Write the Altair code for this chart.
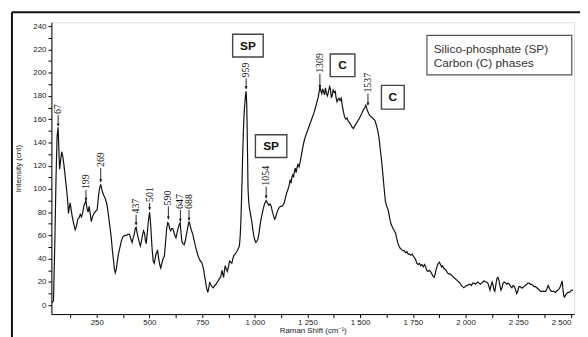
import altair as alt
import pandas as pd

# ---- spectrum ----
shift = [38, 45, 52, 57, 62, 67, 71, 74, 79, 84, 89, 95, 102, 108, 113, 116, 120, 124, 129, 134,
         141, 148, 154, 160, 166, 172, 178, 184, 190, 199, 204, 209, 214, 219, 224, 230, 237, 245, 252, 258,
         263, 269, 275, 282, 290, 297, 304, 311, 318, 324, 330, 334, 338, 343, 348, 353, 358, 363, 368, 375,
         383, 391, 399, 406, 412, 418, 423, 428, 433, 437, 442, 447, 452, 457, 462, 467, 472, 477, 481, 485,
         490, 495, 501, 505, 509, 513, 518, 523, 528, 533, 539, 544, 549, 554, 559, 565, 571, 577, 582, 587,
         591, 596, 601, 606, 611, 616, 621, 626, 631, 636, 641, 646, 650, 654, 659, 665, 670, 675, 680, 684,
         688, 694, 700, 706, 712, 718, 724, 730, 736, 742, 748, 753, 758, 762, 766, 770, 774, 777, 781, 786,
         790, 797, 803, 810, 816, 822, 827, 832, 838, 844, 848, 852, 856, 860, 865, 870, 875, 880, 886, 891,
         896, 901, 907, 914, 920, 927, 931, 934, 937, 940, 943, 946, 949, 952, 956, 959, 962, 964, 966, 968,
         971, 974, 978, 982, 986, 990, 995, 1000, 1005, 1010, 1015, 1020, 1026, 1032, 1039, 1046, 1054, 1060, 1067, 1073,
         1078, 1084, 1089, 1094, 1098, 1104, 1110, 1116, 1122, 1128, 1134, 1140, 1146, 1152, 1158, 1163, 1168, 1172, 1176, 1180,
         1184, 1188, 1192, 1196, 1200, 1205, 1210, 1216, 1222, 1228, 1234, 1240, 1248, 1256, 1264, 1272, 1280, 1288, 1295, 1300,
         1305, 1309, 1314, 1318, 1322, 1327, 1331, 1335, 1340, 1345, 1350, 1355, 1359, 1363, 1367, 1372, 1377, 1382, 1386, 1390,
         1395, 1400, 1405, 1410, 1415, 1420, 1426, 1432, 1438, 1444, 1450, 1456, 1462, 1468, 1474, 1480, 1487, 1494, 1500, 1508,
         1515, 1522, 1527, 1533, 1540, 1546, 1552, 1558, 1565, 1572, 1578, 1584, 1590, 1595, 1600, 1605, 1610, 1615, 1620, 1626,
         1631, 1636, 1641, 1646, 1651, 1656, 1662, 1668, 1673, 1678, 1684, 1690, 1696, 1702, 1709, 1716, 1722, 1728, 1734, 1740,
         1747, 1753, 1758, 1764, 1769, 1775, 1781, 1787, 1793, 1800, 1806, 1811, 1816, 1822, 1828, 1834, 1840, 1846, 1851, 1856,
         1861, 1866, 1871, 1876, 1881, 1886, 1891, 1896, 1902, 1908, 1914, 1920, 1926, 1932, 1938, 1944, 1950, 1956, 1962, 1968,
         1974, 1980, 1986, 1992, 1998, 2004, 2010, 2016, 2022, 2028, 2034, 2040, 2046, 2052, 2058, 2064, 2070, 2076, 2082, 2088,
         2094, 2100, 2106, 2111, 2116, 2121, 2126, 2131, 2135, 2139, 2144, 2149, 2154, 2159, 2164, 2168, 2173, 2178, 2184, 2190,
         2196, 2202, 2208, 2214, 2220, 2226, 2232, 2238, 2243, 2248, 2253, 2259, 2265, 2271, 2277, 2283, 2290, 2296, 2302, 2308,
         2314, 2320, 2326, 2332, 2338, 2344, 2350, 2356, 2362, 2368, 2374, 2380, 2386, 2392, 2397, 2402, 2408, 2414, 2420, 2426,
         2432, 2438, 2444, 2450, 2455, 2458, 2462, 2466, 2470, 2475, 2480, 2486, 2492, 2498, 2504, 2510]
intensity = [2, 4, 60, 110, 145, 153, 130, 117, 125, 132, 128, 120, 108, 98, 88, 79, 84, 88, 82, 76,
             70, 65, 68, 74, 75, 78, 76, 80, 86, 90, 83, 80, 85, 79, 72, 76, 79, 81, 82, 93,
             100, 104, 99, 95, 92, 88, 80, 70, 60, 48, 38, 31, 28, 31, 38, 44, 48, 52, 56, 59,
             60, 60, 61, 61, 57, 54, 58, 61, 66, 67, 62, 58, 54, 51, 55, 60, 64, 62, 56, 53,
             62, 72, 80, 72, 60, 48, 38, 36, 41, 45, 47, 40, 35, 32, 36, 40, 42, 55, 66, 71,
             70, 66, 64, 66, 66, 63, 60, 58, 62, 66, 69, 71, 62, 55, 53, 52, 55, 60, 65, 69,
             72, 68, 64, 61, 56, 51, 47, 43, 40, 38, 37, 34, 30, 25, 21, 16, 13, 11, 14, 20,
             18, 16, 15, 17, 18, 20, 21, 23, 24, 30, 27, 24, 30, 34, 31, 29, 33, 38, 37, 36,
             40, 43, 44, 46, 48, 51, 60, 72, 90, 110, 132, 150, 163, 172, 180, 184, 172, 150, 125, 100,
             90, 84, 80, 76, 72, 66, 60, 56, 54, 55, 57, 62, 70, 76, 82, 87, 90, 88, 86, 87,
             85, 80, 77, 74, 75, 79, 82, 84, 85, 85, 86, 88, 93, 97, 100, 103, 108, 105, 110, 112,
             110, 115, 118, 114, 118, 121, 119, 124, 130, 136, 141, 145, 149, 153, 157, 161, 165, 170, 175, 178,
             183, 188, 184, 182, 186, 183, 181, 187, 182, 180, 184, 188, 186, 179, 180, 185, 183, 184, 178, 175,
             177, 178, 176, 178, 172, 167, 162, 160, 161, 158, 157, 155, 153, 152, 154, 156, 158, 160, 162, 165,
             168, 170, 172, 168, 165, 163, 162, 161, 160, 158, 154, 150, 143, 135, 127, 118, 108, 98, 89, 85,
             83, 79, 74, 70, 68, 66, 64, 62, 58, 54, 51, 49, 48, 47, 47, 45, 46, 44, 44, 43,
             44, 42, 41, 39, 36, 35, 36, 34, 35, 33, 35, 33, 30, 29, 30, 29, 27, 25, 24, 27,
             31, 34, 36, 37, 35, 33, 34, 32, 31, 30, 28, 27, 27, 26, 25, 24, 23, 22, 21, 20,
             19, 17, 16, 15, 16, 17, 17, 18, 18, 17, 19, 19, 18, 19, 20, 19, 18, 19, 20, 21,
             20, 20, 19, 16, 13, 17, 20, 17, 13, 12, 18, 23, 24, 21, 16, 13, 15, 19, 20, 19,
             18, 19, 18, 16, 15, 17, 16, 13, 10, 12, 16, 16, 15, 15, 16, 17, 18, 19, 19, 18,
             18, 17, 16, 16, 15, 14, 13, 12, 12, 12, 12, 12, 14, 17, 15, 13, 12, 12, 12, 11,
             12, 13, 14, 16, 19, 21, 14, 8, 7, 9, 10, 11, 11, 12, 13, 13]

# ---- peak annotations ----
peak_labels = ["67", "199", "269", "437", "501", "590", "647", "688", "959", "1054", "1309", "1537"]
peak_pos = [67, 199, 269, 437, 501, 590, 647, 688, 959, 1054, 1309, 1537]
peak_text_base = [163.5, 99, 118, 78, 88, 85, 82, 82, 195, 102, 199, 182]
peak_tip = [154, 90, 106, 69, 82, 74, 72, 73, 186, 92, 187, 172]

# ---- phase boxes ----
box_text = ["SP", "SP", "C", "C"]
box_x1 = [895, 1003, 1358, 1601]
box_x2 = [1040, 1152, 1475, 1709]
box_y1 = [213.5, 127, 196.6, 168.6]
box_y2 = [233, 146.6, 216, 189]

legend_lines = ["Silico-phosphate (SP)", "Carbon (C) phases"]
legend_y = [220.6, 207.9]

df = pd.DataFrame({"shift": shift, "intensity": intensity})
peaks = pd.DataFrame({"label": peak_labels, "x": peak_pos, "base": peak_text_base, "tip": peak_tip})
boxes = pd.DataFrame({"t": box_text, "x1": box_x1, "x2": box_x2, "y1": box_y1, "y2": box_y2})
boxes["xc"] = (boxes.x1 + boxes.x2) / 2
boxes["yc"] = (boxes.y1 + boxes.y2) / 2
leg_box = pd.DataFrame({"x1": [1817], "x2": [2504], "y1": [198], "y2": [232]})
leg_txt = pd.DataFrame({"t": legend_lines, "y": legend_y, "x": [1849, 1849]})

xs = alt.Scale(domain=[35, 2515], nice=False, zero=False)
ys = alt.Scale(domain=[-7.6, 243.4], nice=False, zero=False)

xaxis = alt.Axis(
    title="Raman Shift (cm⁻¹)",
    values=list(range(125, 2501, 125)),
    labelExpr="datum.value % 250 == 0 ? replace(format(datum.value, ','), ',', ' ') : ''",
    tickSize=3.5,
    grid=False, domainColor="black", tickColor="black", labelColor="#222",
    labelFont="Liberation Sans", labelFontSize=8, labelPadding=1.5,
    titleFont="Liberation Sans", titleFontSize=8, titleFontWeight="normal",
    titleColor="#222", titlePadding=0, labelFlush=5, labelOverlap=False,
)
yaxis = alt.Axis(
    title="Intensity (cnt)",
    values=list(range(0, 241, 10)),
    labelExpr="datum.value % 20 == 0 ? datum.label : ''",
    tickSize=3.5,
    grid=False, domainColor="black", tickColor="black", labelColor="#222",
    labelFont="Liberation Sans", labelFontSize=8, labelPadding=2,
    titleFont="Liberation Sans", titleFontSize=8, titleFontWeight="normal",
    titleColor="#222", titlePadding=10, labelFlush=False, labelOverlap=False,
)

def X(f):
    return alt.X(f, scale=xs, axis=xaxis)

def Y(f):
    return alt.Y(f, scale=ys, axis=yaxis)

line = alt.Chart(df).mark_line(color="#111", strokeWidth=1.2).encode(
    x=X("shift:Q"), y=Y("intensity:Q"),
)

arrows = alt.Chart(peaks).mark_rule(color="#111", strokeWidth=0.9).encode(
    x=X("x:Q"), y=Y("base:Q"), y2="tip:Q"
)
heads = alt.Chart(peaks).mark_point(
    shape="M-0.55,-1L0.55,-1L0,0Z", filled=True, color="#111", size=30, opacity=1
).encode(x=X("x:Q"), y=Y("tip:Q"))
ptext = alt.Chart(peaks).mark_text(
    angle=270, align="left", baseline="middle", font="Liberation Serif", fontSize=10, color="#111", dx=1
).encode(x=X("x:Q"), y=Y("base:Q"), text="label:N")

brect = alt.Chart(boxes).mark_rect(fill="white", stroke="#444", strokeWidth=1.4).encode(
    x=X("x1:Q"), x2="x2:Q", y=Y("y1:Q"), y2="y2:Q"
)
btext = alt.Chart(boxes).mark_text(
    font="Liberation Sans", fontSize=12, fontWeight="bold", color="#111", baseline="middle"
).encode(x=X("xc:Q"), y=Y("yc:Q"), text="t:N")

lrect = alt.Chart(leg_box).mark_rect(fill="white", stroke="#555", strokeWidth=1.2).encode(
    x=X("x1:Q"), x2="x2:Q", y=Y("y1:Q"), y2="y2:Q"
)
ltext = alt.Chart(leg_txt).mark_text(
    font="Liberation Sans", fontSize=12, color="#333", align="left", baseline="middle"
).encode(x=X("x:Q"), y=Y("y:Q"), text="t:N")

frame_left = alt.Chart(pd.DataFrame({"a": [0]})).mark_rule(color="#111", strokeWidth=2).encode(
    x=alt.value(-40), y=alt.value(-10), y2=alt.value(340)
)
frame_top = alt.Chart(pd.DataFrame({"a": [0]})).mark_rule(color="#111", strokeWidth=2).encode(
    x=alt.value(-40), x2=alt.value(560), y=alt.value(-10)
)

chart = alt.layer(
    line, arrows, heads, ptext, brect, btext, lrect, ltext, frame_left, frame_top
).properties(
    width=530, height=296, autosize="none",
    padding={"left": 44, "top": 12, "right": 6, "bottom": 30},
).configure_view(stroke="#888", strokeWidth=1).configure(background="white")

chart.save("out.html", embed_options={"renderer": "svg", "actions": False})
